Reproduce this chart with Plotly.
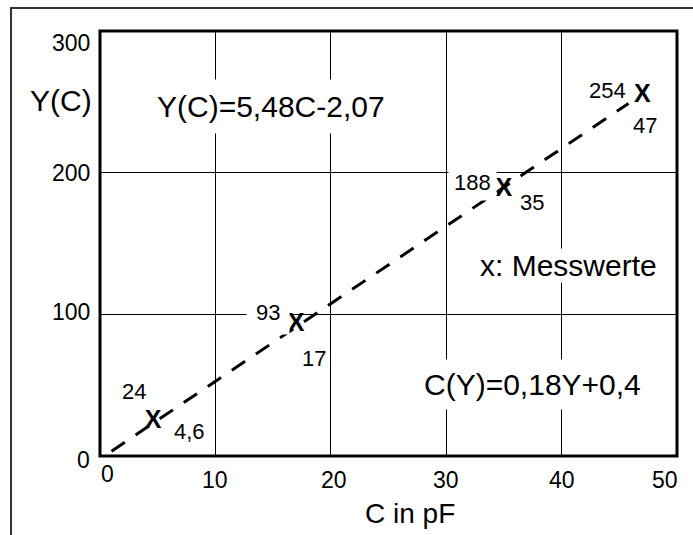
import plotly.graph_objects as go

# ---- data ----
C_meas = [4.6, 17, 35, 47]
Y_meas = [24, 93, 188, 254]
C_labels = ["4,6", "17", "35", "47"]
Y_labels = ["24", "93", "188", "254"]

fit_C = [1.0, 45.8]
fit_Y = [3.4, 248.9]

x_ticks = [0, 10, 20, 30, 40, 50]
y_ticks = [0, 100, 200, 300]
x_grid = [10, 20, 30, 40]
y_grid = [100, 200]

FONT = "Liberation Sans, Arial, sans-serif"
NARROW = "Liberation Sans Narrow, Arial Narrow, Liberation Sans, sans-serif"
TICK_SIZE = 23
LABEL_SIZE = 22

fig = go.Figure()

# fitted dashed line
fig.add_trace(go.Scatter(
    x=fit_C, y=fit_Y, mode="lines",
    line=dict(color="black", width=3, dash="16px,13px"),
    hoverinfo="skip", showlegend=False))

# measured points drawn as "X"
fig.add_trace(go.Scatter(
    x=C_meas, y=Y_meas, mode="text", text=["<b>X</b>"] * len(C_meas),
    textposition="middle center",
    textfont=dict(family=NARROW, size=25, color="black"),
    showlegend=False))

ann = []
# y-value labels (offsets in px from each point)
y_off = [(-19, 31), (-28, 12), (-31, 7), (-35, 6)]
y_bg = [None, 9, 5, None]
for c, y, t, (dx, dy), pad in zip(C_meas, Y_meas, Y_labels, y_off, y_bg):
    a = dict(x=c, y=y, xref="x", yref="y", text=t, showarrow=False,
             xshift=dx, yshift=dy, xanchor="center", yanchor="middle",
             font=dict(family=FONT, size=LABEL_SIZE, color="black"))
    if pad is not None:
        a.update(bgcolor="white", borderpad=pad)
    ann.append(a)
# C-value labels
c_off = [(36, -9), (18, -34), (28, -13), (3, -29)]
for c, y, t, (dx, dy) in zip(C_meas, Y_meas, C_labels, c_off):
    ann.append(dict(x=c, y=y, xref="x", yref="y", text=t, showarrow=False,
                    xshift=dx, yshift=dy, xanchor="center", yanchor="middle",
                    font=dict(family=FONT, size=LABEL_SIZE, color="black")))

# tick labels
x_tick_shift = {0: (7, -18), 20: (3, -24), 50: (-12, -24)}
for v in x_ticks:
    dx, dy = x_tick_shift.get(v, (0, -24))
    ann.append(dict(x=v, y=0, xref="x", yref="paper", text=str(v), showarrow=False,
                    xshift=dx, yshift=dy, xanchor="center", yanchor="middle",
                    font=dict(family=FONT, size=TICK_SIZE, color="black")))
y_tick_shift = {0: -4, 100: 2, 200: 0, 300: -12}
for v in y_ticks:
    ann.append(dict(x=0, y=v, xref="paper", yref="y", text=str(v), showarrow=False,
                    xshift=-8, yshift=y_tick_shift[v], xanchor="right", yanchor="middle",
                    font=dict(family=FONT, size=TICK_SIZE, color="black")))

# axis titles and formulas
ann.append(dict(x=0.537, y=-0.136, xref="paper", yref="paper", text="C in pF",
                showarrow=False, xanchor="center", yanchor="middle",
                font=dict(family=FONT, size=28, color="black")))
ann.append(dict(x=-0.0676, y=0.8376, xref="paper", yref="paper", text="Y(C)",
                showarrow=False, xanchor="center", yanchor="middle",
                font=dict(family=FONT, size=30, color="black")))
ann.append(dict(x=0.2964, y=0.8212, xref="paper", yref="paper", text="Y(C)=5,48C-2,07",
                showarrow=False, xanchor="center", yanchor="middle", bgcolor="white",
                borderpad=10, font=dict(family=FONT, size=30, color="black")))
ann.append(dict(x=0.7504, y=0.1671, xref="paper", yref="paper", text="C(Y)=0,18Y+0,4",
                showarrow=False, xanchor="center", yanchor="middle", bgcolor="white",
                borderpad=8, font=dict(family=FONT, size=30, color="black")))
ann.append(dict(x=0.8128, y=0.4494, xref="paper", yref="paper", text="x: Messwerte",
                showarrow=False, xanchor="center", yanchor="middle", bgcolor="white",
                borderpad=0, font=dict(family=FONT, size=30, color="black")))

shapes = [
    # plot frame
    dict(type="rect", xref="paper", yref="paper", x0=0, y0=0, x1=1, y1=1,
         line=dict(color="black", width=3), layer="above"),
    # outer picture frame (cropped at right and bottom)
    dict(type="rect", xref="paper", yref="paper", x0=-0.1542, y0=-0.25, x1=1.1, y1=1.0541,
         line=dict(color="#333333", width=2), layer="above"),
]

fig.update_layout(
    width=693, height=535,
    margin=dict(l=100, r=16, t=31, b=79),
    paper_bgcolor="white", plot_bgcolor="white",
    showlegend=False,
    annotations=ann, shapes=shapes,
    xaxis=dict(range=[0, 50], tickvals=x_grid, showticklabels=False, ticks="",
               showgrid=True, gridcolor="black", gridwidth=1, zeroline=False,
               showline=False, fixedrange=True),
    yaxis=dict(range=[0, 300], tickvals=y_grid, showticklabels=False, ticks="",
               showgrid=True, gridcolor="black", gridwidth=1, zeroline=False,
               showline=False, fixedrange=True),
)

fig.write_html(
    "out.html",
    config={"displayModeBar": False},
    post_script="document.body.style.margin='0';document.body.style.overflow='hidden';",
)
